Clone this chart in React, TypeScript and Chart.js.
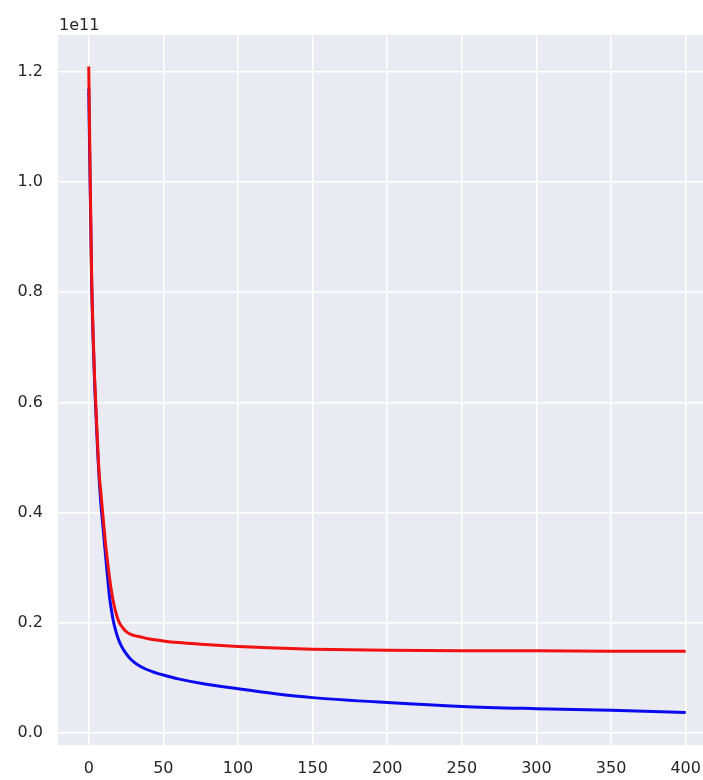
import React, { useEffect, useRef } from "react";
import { Chart, registerables } from "chart.js";

Chart.register(...registerables);

const SCALE_LABEL = "1e11";
const X_TICKS = [0, 50, 100, 150, 200, 250, 300, 350, 400];
const Y_TICKS = [0, 0.2, 0.4, 0.6, 0.8, 1.0, 1.2];

const redX = [0, 1, 2, 3, 4, 5, 6, 7, 8, 9, 10, 11, 12, 14, 16, 18, 20, 23, 26, 30, 35, 40, 50, 60, 75, 100, 125, 150, 200, 250, 300, 350, 400];
const redY = [1.21, 1.0, 0.82, 0.72, 0.64, 0.58, 0.52, 0.47, 0.44, 0.41, 0.38, 0.35, 0.325, 0.28, 0.245, 0.22, 0.203, 0.19, 0.182, 0.177, 0.174, 0.171, 0.167, 0.164, 0.161, 0.157, 0.154, 0.152, 0.15, 0.149, 0.149, 0.148, 0.148];

const blueX = [0, 1, 2, 3, 4, 5, 6, 7, 8, 9, 10, 11, 12, 13, 14, 16, 18, 20, 22, 24, 28, 32, 38, 45, 50, 60, 75, 100, 125, 150, 200, 250, 300, 350, 400];
const blueY = [1.17, 0.98, 0.81, 0.71, 0.63, 0.57, 0.51, 0.46, 0.42, 0.39, 0.36, 0.33, 0.3, 0.272, 0.245, 0.21, 0.186, 0.169, 0.157, 0.148, 0.134, 0.125, 0.116, 0.109, 0.105, 0.098, 0.09, 0.08, 0.071, 0.064, 0.055, 0.048, 0.044, 0.041, 0.037];

const FONT = "'DejaVu Sans', sans-serif";
const TEXT = "#262626";

const bgPlugin = {
  id: "bgPlugin",
  beforeDraw(chart: any) {
    const { ctx, chartArea } = chart;
    ctx.save();
    ctx.fillStyle = "#EAEAF2";
    ctx.fillRect(chartArea.left, chartArea.top, chartArea.right - chartArea.left, chartArea.bottom - chartArea.top);
    ctx.restore();
  },
  afterDraw(chart: any) {
    const { ctx, chartArea } = chart;
    ctx.save();
    ctx.fillStyle = TEXT;
    ctx.font = `16px ${FONT}`;
    ctx.textAlign = "left";
    ctx.textBaseline = "alphabetic";
    ctx.fillText(SCALE_LABEL, chartArea.left + 1, 30);
    ctx.restore();
  },
};

export default function App() {
  const ref = useRef<HTMLCanvasElement | null>(null);
  useEffect(() => {
    if (!ref.current) return;
    const chart = new Chart(ref.current, {
      type: "line",
      data: {
        datasets: [
          {
            data: redX.map((x, i) => ({ x, y: redY[i] })),
            borderColor: "#f01010",
            borderWidth: 3,
            pointRadius: 0,
            cubicInterpolationMode: "monotone",
          },
          {
            data: blueX.map((x, i) => ({ x, y: blueY[i] })),
            borderColor: "#0a0af0",
            borderWidth: 3,
            pointRadius: 0,
            cubicInterpolationMode: "monotone",
          },
        ],
      },
      options: {
        animation: false,
        responsive: false,
        layout: { padding: { top: 35, right: 0, left: 0, bottom: 0 } },
        plugins: { legend: { display: false }, tooltip: { enabled: false } },
        scales: {
          x: {
            type: "linear",
            min: -20.6,
            max: 411.6,
            afterBuildTicks: (axis: any) => {
              axis.ticks = X_TICKS.map((v) => ({ value: v }));
            },
            afterFit: (axis: any) => {
              axis.height = 35;
              axis.paddingRight = 0;
              axis.paddingLeft = 0;
            },
            grid: { color: "#ffffff", lineWidth: 1.5, drawTicks: false },
            border: { display: false },
            ticks: {
              padding: 14,
              color: TEXT,
              font: { family: FONT, size: 16 },
              maxRotation: 0,
              callback: (v: any) => String(v),
            },
          },
          y: {
            type: "linear",
            min: -0.022,
            max: 1.267,
            afterBuildTicks: (axis: any) => {
              axis.ticks = Y_TICKS.map((v) => ({ value: v }));
            },
            afterFit: (axis: any) => {
              axis.width = 58;
              axis.paddingTop = 0;
              axis.paddingBottom = 0;
            },
            grid: { color: "#ffffff", lineWidth: 1.5, drawTicks: false },
            border: { display: false },
            ticks: {
              padding: 15,
              color: TEXT,
              font: { family: FONT, size: 16 },
              callback: (v: any) => Number(v).toFixed(1),
            },
          },
        },
      },
      plugins: [bgPlugin],
    } as any);
    return () => chart.destroy();
  }, []);
  return (
    <div style={{ position: "absolute", left: 0, top: 0, width: 703, height: 780, background: "#ffffff" }}>
      <canvas ref={ref} width={703} height={780} style={{ width: 703, height: 780 }} />
    </div>
  );
}
